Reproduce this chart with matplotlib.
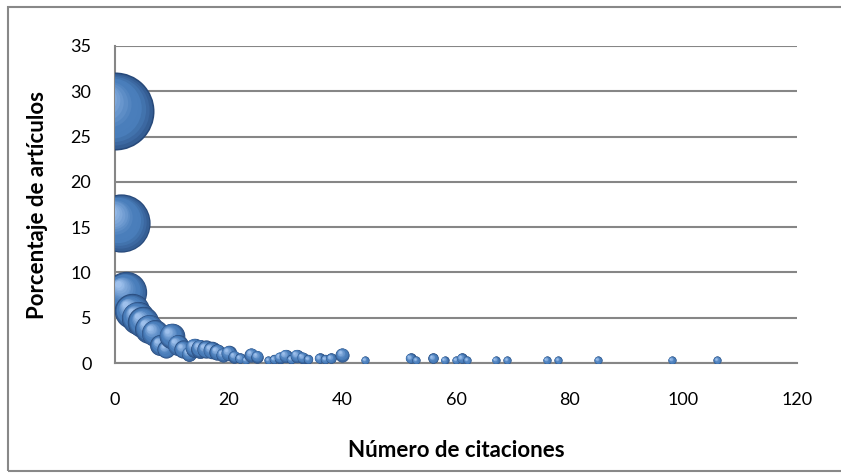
import numpy as np
import matplotlib
matplotlib.use("Agg")
import matplotlib.pyplot as plt
from matplotlib.transforms import ScaledTranslation
from matplotlib.patches import Rectangle
from matplotlib.colors import to_rgb

# citas recibidas vs porcentaje de articulos (tamaño de burbuja = porcentaje)
citaciones = [0, 1, 2, 3, 4, 5, 6, 7, 8, 9, 10, 11, 12, 13, 14, 15, 16, 17, 18, 19,
              20, 21, 22, 23, 24, 25, 27, 28, 29, 30, 31, 32, 33, 34, 36, 37, 38, 40,
              44, 52, 53, 56, 58, 60, 61, 62, 67, 69, 76, 78, 85, 98, 106]
porcentaje = [27.8, 15.5, 7.8, 5.7, 5.0, 4.5, 3.8, 3.3, 2.0, 1.5, 3.0, 2.0, 1.5, 1.0,
              1.7, 1.6, 1.5, 1.4, 1.2, 0.9, 1.1, 0.7, 0.5, 0.3, 0.9, 0.7, 0.3, 0.4,
              0.6, 0.8, 0.4, 0.8, 0.6, 0.4, 0.5, 0.4, 0.5, 0.9, 0.3, 0.5, 0.3, 0.5,
              0.3, 0.3, 0.5, 0.3, 0.3, 0.3, 0.3, 0.3, 0.3, 0.3, 0.3]
tamano = porcentaje

plt.rcParams['font.family'] = ['Lato', 'DejaVu Sans']

fig = plt.figure(figsize=(8.41, 4.73), dpi=100)
ax = fig.add_axes([115/841, 1-363/473, (797-115)/841, (363-46)/473])

grey = '#868686'
ax.set_xlim(0, 120)
ax.set_ylim(0, 35)
ax.set_xticks(range(0, 121, 20))
ax.set_yticks(range(0, 36, 5))
ax.yaxis.grid(True, color=grey, lw=1.5)
ax.set_axisbelow(True)
for s in ['top', 'right']:
    ax.spines[s].set_visible(False)
for s in ['left', 'bottom']:
    ax.spines[s].set_color(grey)
    ax.spines[s].set_linewidth(1.5)
ax.tick_params(length=0, labelsize=13, colors='black')
ax.tick_params(axis='x', pad=21)
ax.tick_params(axis='y', pad=17)
ax.set_xlabel('Número de citaciones', fontsize=16, fontweight='bold', labelpad=23)
ax.set_ylabel('Porcentaje de artículos', fontsize=16, fontweight='bold', labelpad=16)

# sphere-like bubbles (Excel 2007 style)
rmax_px = 39.0
vmax = max(tamano)
dark = np.array(to_rgb('#27497a'))
mid = np.array(to_rgb('#4a7ebb'))
light = np.array(to_rgb('#9ec0ec'))
nlay = 14
for xi, yi, vi in zip(citaciones, porcentaje, tamano):
    r_pt = rmax_px * np.sqrt(vi / vmax) * 72 / 100
    ax.scatter([xi], [yi], s=(2*r_pt)**2, color=dark, lw=0, zorder=3)
    for k in range(nlay):
        f = 0.96 - 0.86 * k / nlay
        t = k / (nlay - 1)
        if t < 0.4:
            c = dark + (mid - dark) * min(1, t / 0.4 + 0.4)
        else:
            c = mid + (light - mid) * (t - 0.4) / 0.6
        off = (0.96 - f) * 0.5 * r_pt / 72
        tr = ax.transData + ScaledTranslation(-off, off, fig.dpi_scale_trans)
        ax.scatter([xi], [yi], s=(2*r_pt*f)**2, color=np.clip(c, 0, 1), lw=0,
                   transform=tr, zorder=3)

fig.patches.append(Rectangle((8/841, 2/473), 1.0, 464/473, transform=fig.transFigure,
                             fill=False, edgecolor='#888888', lw=1.5))

fig.savefig('out.png', dpi=100)
